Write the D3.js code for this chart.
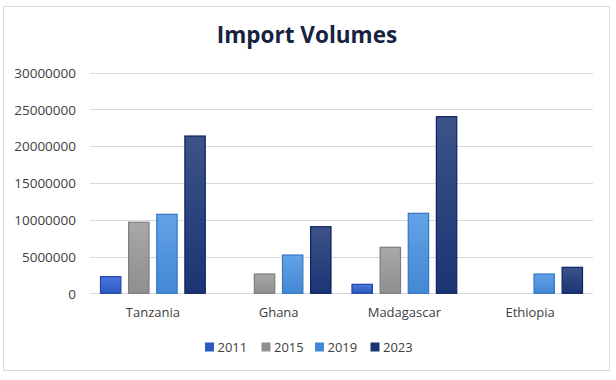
<!DOCTYPE html>
<html><head><meta charset="utf-8">
<script src="https://cdn.jsdelivr.net/npm/d3@7"></script>
<style>body{margin:0;background:#fff;} svg{display:block;}</style>
</head><body>
<svg id="c" width="616" height="380"></svg>
<script>
const categories = ["Tanzania", "Ghana", "Madagascar", "Ethiopia"];
const years = ["2011", "2015", "2019", "2023"];
const v2011 = [2260000, 0, 1220000, 0];
const v2015 = [9650000, 2620000, 6250000, 0];
const v2019 = [10730000, 5200000, 10870000, 2620000];
const v2023 = [21370000, 9050000, 24000000, 3530000];
const yTicks = [0, 5000000, 10000000, 15000000, 20000000, 25000000, 30000000];
const title = "Import Volumes";

const series = [v2011, v2015, v2019, v2023];
const colors = {
  "2011": ["#4a78dc", "#2c58c2", "#1f45a8"],
  "2015": ["#a8a8a8", "#8f8f8f", "#7d7d7d"],
  "2019": ["#63a2e6", "#4388d4", "#3477c4"],
  "2023": ["#3d5288", "#1b3474", "#0e2262"]
};

const svg = d3.select("#c");
const defs = svg.append("defs");
years.forEach(yr => {
  const g = defs.append("linearGradient").attr("id", "g" + yr)
    .attr("x1", 0).attr("y1", 0).attr("x2", 0).attr("y2", 1);
  g.append("stop").attr("offset", "0%").attr("stop-color", colors[yr][0]);
  g.append("stop").attr("offset", "100%").attr("stop-color", colors[yr][1]);
});

// outer frame
svg.append("rect").attr("x", 3.5).attr("y", 6.5).attr("width", 606).attr("height", 364)
  .attr("fill", "#fff").attr("stroke", "#d9d9d9").attr("stroke-width", 1);

const pLeft = 90, pRight = 593, pTop = 72.5, pBottom = 293.3;
const x0 = d3.scaleBand().domain(categories).range([pLeft, pRight]).paddingInner(0).paddingOuter(0);
const x1 = d3.scaleBand().domain(years).range([10, x0.bandwidth() - 10]).paddingInner(0.24);
const y = d3.scaleLinear().domain([0, 30000000]).range([pBottom, pTop]);

// gridlines
svg.append("g").selectAll("line").data(yTicks).join("line")
  .attr("x1", pLeft).attr("x2", pRight)
  .attr("y1", d => Math.round(y(d)) + 0.5).attr("y2", d => Math.round(y(d)) + 0.5)
  .attr("stroke", "#d9d9d9").attr("stroke-width", 1.2);

// y axis labels
const yAxis = d3.axisLeft(y).tickValues(yTicks).tickSize(0).tickPadding(0).tickFormat(d3.format("d"));
const ya = svg.append("g").attr("transform", `translate(${pLeft - 14},0)`).call(yAxis);
ya.select(".domain").remove();
ya.selectAll("text").attr("font-family", "Open Sans, sans-serif").attr("font-size", "13.5px")
  .attr("fill", "#404040").attr("dy", "0.35em");

// bars
const groups = svg.append("g").selectAll("g").data(categories).join("g")
  .attr("transform", d => `translate(${x0(d)},0)`);
groups.selectAll("rect")
  .data((c, i) => years.map((yr, j) => ({ yr, v: series[j][i] })).filter(d => d.v > 0))
  .join("rect")
  .attr("x", d => x1(d.yr) + 0.5)
  .attr("width", x1.bandwidth() - 1)
  .attr("y", d => y(d.v))
  .attr("height", d => pBottom - y(d.v))
  .attr("fill", d => `url(#g${d.yr})`)
  .attr("stroke", d => colors[d.yr][2])
  .attr("stroke-width", 1.2);

// x axis labels
const xAxis = d3.axisBottom(x0).tickSize(0).tickPadding(0);
const xa = svg.append("g").attr("transform", `translate(0,${pBottom + 19.5})`).call(xAxis);
xa.select(".domain").remove();
xa.selectAll("text").attr("font-family", "Open Sans, sans-serif").attr("font-size", "13px")
  .attr("fill", "#404040").attr("dy", "0.35em");

// title
svg.append("text").attr("x", 307).attr("y", 43).attr("text-anchor", "middle")
  .attr("font-family", "Open Sans, sans-serif").attr("font-weight", "bold")
  .attr("font-size", "22.5px").attr("fill", "#16233f").text(title);

// legend
const legX = [205, 261.5, 315, 370.5];
const leg = svg.append("g").selectAll("g").data(years).join("g")
  .attr("transform", (d, i) => `translate(${legX[i]},347)`);
leg.append("rect").attr("x", 0).attr("y", -4.5).attr("width", 9).attr("height", 9)
  .attr("fill", d => colors[d][1]);
leg.append("text").attr("x", 12.5).attr("y", 0).attr("dy", "0.35em")
  .attr("font-family", "Open Sans, sans-serif").attr("font-size", "13px")
  .attr("fill", "#404040").text(d => d);
</script>
</body></html>
